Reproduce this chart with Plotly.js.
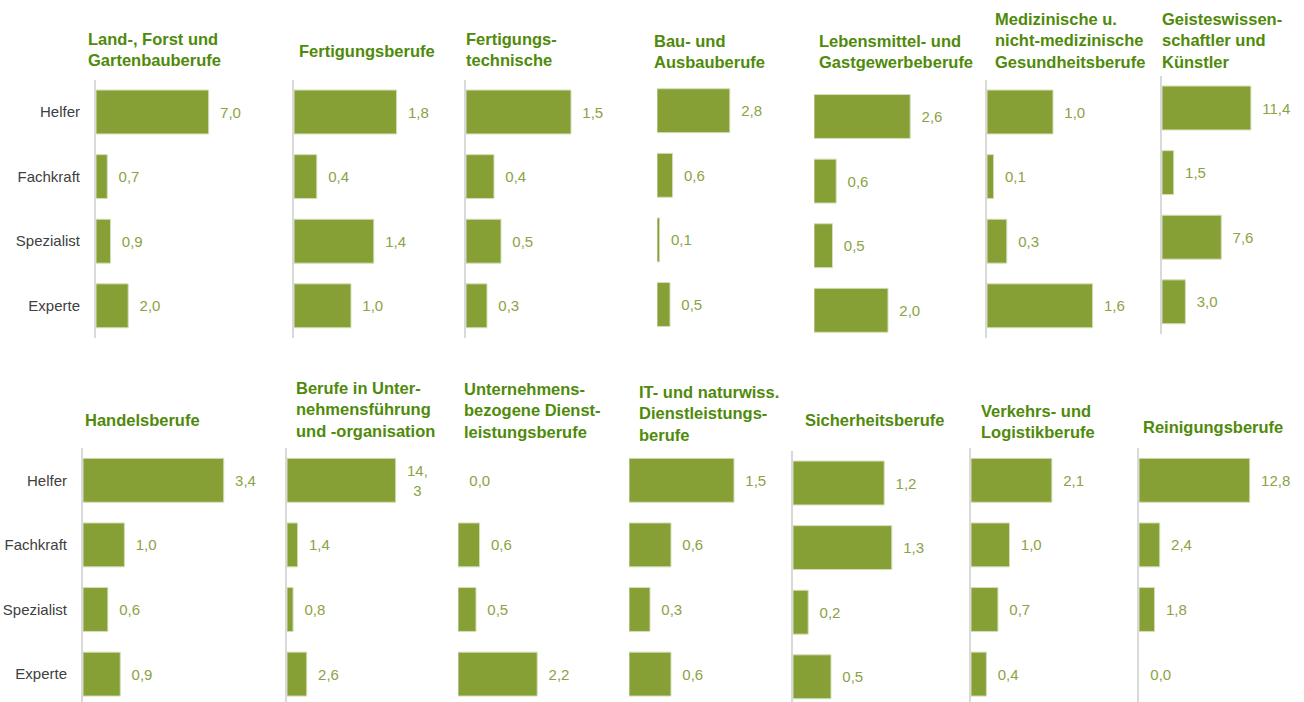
<!DOCTYPE html>
<html>
<head>
<meta charset="utf-8">
<script src="https://cdn.plot.ly/plotly-3.0.1.min.js"></script>
<style>
html,body{margin:0;padding:0;background:#fff;}
#chart{width:1304px;height:702px;}
</style>
</head>
<body>
<div id="chart"></div>
<script>
// ---------- data ----------
const categories = ['Helfer', 'Fachkraft', 'Spezialist', 'Experte'];

const titles = [
  'Land-, Forst und<br>Gartenbauberufe',
  'Fertigungsberufe',
  'Fertigungs-<br>technische',
  'Bau- und<br>Ausbauberufe',
  'Lebensmittel- und<br>Gastgewerbeberufe',
  'Medizinische u.<br>nicht-medizinische<br>Gesundheitsberufe',
  'Geisteswissen-<br>schaftler und<br>Künstler',
  'Handelsberufe',
  'Berufe in Unter-<br>nehmensführung<br>und -organisation',
  'Unternehmens-<br>bezogene Dienst-<br>leistungsberufe',
  'IT- und naturwiss.<br>Dienstleistungs-<br>berufe',
  'Sicherheitsberufe',
  'Verkehrs- und<br>Logistikberufe',
  'Reinigungsberufe'
];

const landForst        = [7.0, 0.7, 0.9, 2.0];
const fertigung        = [1.8, 0.4, 1.4, 1.0];
const fertigungTechn   = [1.5, 0.4, 0.5, 0.3];
const bau              = [2.8, 0.6, 0.1, 0.5];
const lebensmittel     = [2.6, 0.6, 0.5, 2.0];
const medizin          = [1.0, 0.1, 0.3, 1.6];
const geistes          = [11.4, 1.5, 7.6, 3.0];
const handel           = [3.4, 1.0, 0.6, 0.9];
const unternehmensfuehrung = [14.3, 1.4, 0.8, 2.6];
const unternehmensDienst   = [0.0, 0.6, 0.5, 2.2];
const itNaturwiss      = [1.5, 0.6, 0.3, 0.6];
const sicherheit       = [1.2, 1.3, 0.2, 0.5];
const verkehr          = [2.1, 1.0, 0.7, 0.4];
const reinigung        = [12.8, 2.4, 1.8, 0.0];

const seriesList = [landForst, fertigung, fertigungTechn, bau, lebensmittel, medizin, geistes,
                    handel, unternehmensfuehrung, unternehmensDienst, itNaturwiss, sicherheit, verkehr, reinigung];

// label of 14,3 is wrapped in the original
const wrappedLabels = {'8-0': ['14,', '3']};

// ---------- layout geometry (pixels) ----------
const W = 1304, H = 702;
const BAND = 64.6;      // category spacing in px
// ax: left edge (axis) px, ppu: px per unit, yc: centre of first bar px, line: axis line shown,
// tx: title left px, tb: title bottom px
const geo = [
  {ax: 96,   ppu: 16.1, yc: 112,   line: true,  tx: 86,   tb: 71,  ticks: true},
  {ax: 294,  ppu: 57,   yc: 112,   line: true,  tx: 297,  tb: 62},
  {ax: 466,  ppu: 70,   yc: 112,   line: true,  tx: 464,  tb: 71},
  {ax: 657,  ppu: 26,   yc: 110.7, line: false, tx: 652,  tb: 73},
  {ax: 814,  ppu: 37,   yc: 116.5, line: false, tx: 817,  tb: 73},
  {ax: 987,  ppu: 66,   yc: 112,   line: true,  tx: 993,  tb: 73},
  {ax: 1162, ppu: 7.8,  yc: 108,   line: true,  tx: 1160, tb: 73},
  {ax: 83,   ppu: 41.4, yc: 480.3, line: true,  tx: 83,   tb: 431, ticks: true},
  {ax: 287,  ppu: 7.6,  yc: 480.3, line: true,  tx: 294,  tb: 442},
  {ax: 458,  ppu: 36,   yc: 480.3, line: false, tx: 462,  tb: 443},
  {ax: 629,  ppu: 70,   yc: 480.3, line: false, tx: 637,  tb: 446},
  {ax: 793,  ppu: 76,   yc: 483,   line: true,  tx: 803,  tb: 431},
  {ax: 971,  ppu: 38.5, yc: 480.3, line: true,  tx: 979,  tb: 443},
  {ax: 1139, ppu: 8.65, yc: 480.3, line: true,  tx: 1141, tb: 438}
];

const BAR = '#86A036';
const LABEL = '#8AA344';
const TITLE = '#4F8A0B';
const FONT = 'Liberation Sans, Arial, sans-serif';
const NB = '\u00a0\u00a0';

function fmt(v) { return v.toFixed(1).replace('.', ','); }

const traces = [];
const layout = {
  width: W, height: H,
  margin: {l: 0, r: 0, t: 0, b: 0},
  paper_bgcolor: '#fff', plot_bgcolor: 'rgba(0,0,0,0)',
  showlegend: false,
  font: {family: FONT},
  annotations: []
};

seriesList.forEach((vals, i) => {
  const g = geo[i];
  const n = i + 1;
  const xa = 'xaxis' + (n === 1 ? '' : n);
  const ya = 'yaxis' + (n === 1 ? '' : n);
  const xs = 'x' + (n === 1 ? '' : n);
  const ys = 'y' + (n === 1 ? '' : n);

  const labels = vals.map((v, k) => {
    const w = wrappedLabels[i + '-' + k];
    if (w) return w.map(s => NB + s).join('<br>');
    return NB + fmt(v);
  });

  traces.push({
    type: 'bar', orientation: 'h',
    x: vals, y: categories,
    xaxis: xs, yaxis: ys,
    width: 0.68,
    marker: {color: BAR, line: {color: '#d3debb', width: vals.map(v => v > 0 ? 1 : 0)}},
    text: labels,
    textposition: 'outside',
    textfont: {family: FONT, size: 15, color: LABEL},
    constraintext: 'none',
    cliponaxis: false,
    hoverinfo: 'skip'
  });

  // x axis: width large enough for the longest bar
  const maxPx = Math.max(...vals) * g.ppu;
  const xw = Math.min(Math.max(130, maxPx + 10), W - g.ax);
  layout[xa] = {
    domain: [g.ax / W, (g.ax + xw) / W],
    range: [0, xw / g.ppu],
    anchor: ys,
    showgrid: false, zeroline: false, showline: false,
    showticklabels: false, ticks: '', fixedrange: true
  };

  // y axis
  let top = g.yc - BAND / 2;
  let bottom = g.yc + 3.5 * BAND;
  let r0 = 3.5;
  if (bottom > H) { r0 = 3.5 - (bottom - H) / BAND; bottom = H; }
  layout[ya] = {
    domain: [1 - bottom / H, 1 - top / H],
    range: [r0, -0.5],
    type: 'category',
    anchor: xs,
    showgrid: false, zeroline: false,
    showline: g.line, linecolor: '#d9d9d9', linewidth: 2,
    showticklabels: !!g.ticks,
    ticks: g.ticks ? 'outside' : '', ticklen: 11, tickcolor: 'rgba(0,0,0,0)',
    tickfont: {family: FONT, size: 15, color: '#404040'},
    fixedrange: true
  };

  layout.annotations.push({
    xref: 'paper', yref: 'paper',
    x: g.tx / W, y: 1 - g.tb / H,
    xanchor: 'left', yanchor: 'bottom', align: 'left',
    showarrow: false,
    text: '<b>' + titles[i] + '</b>',
    font: {family: FONT, size: 16.5, color: TITLE}
  });
});

Plotly.newPlot('chart', traces, layout, {displayModeBar: false, staticPlot: true});
</script>
</body>
</html>
